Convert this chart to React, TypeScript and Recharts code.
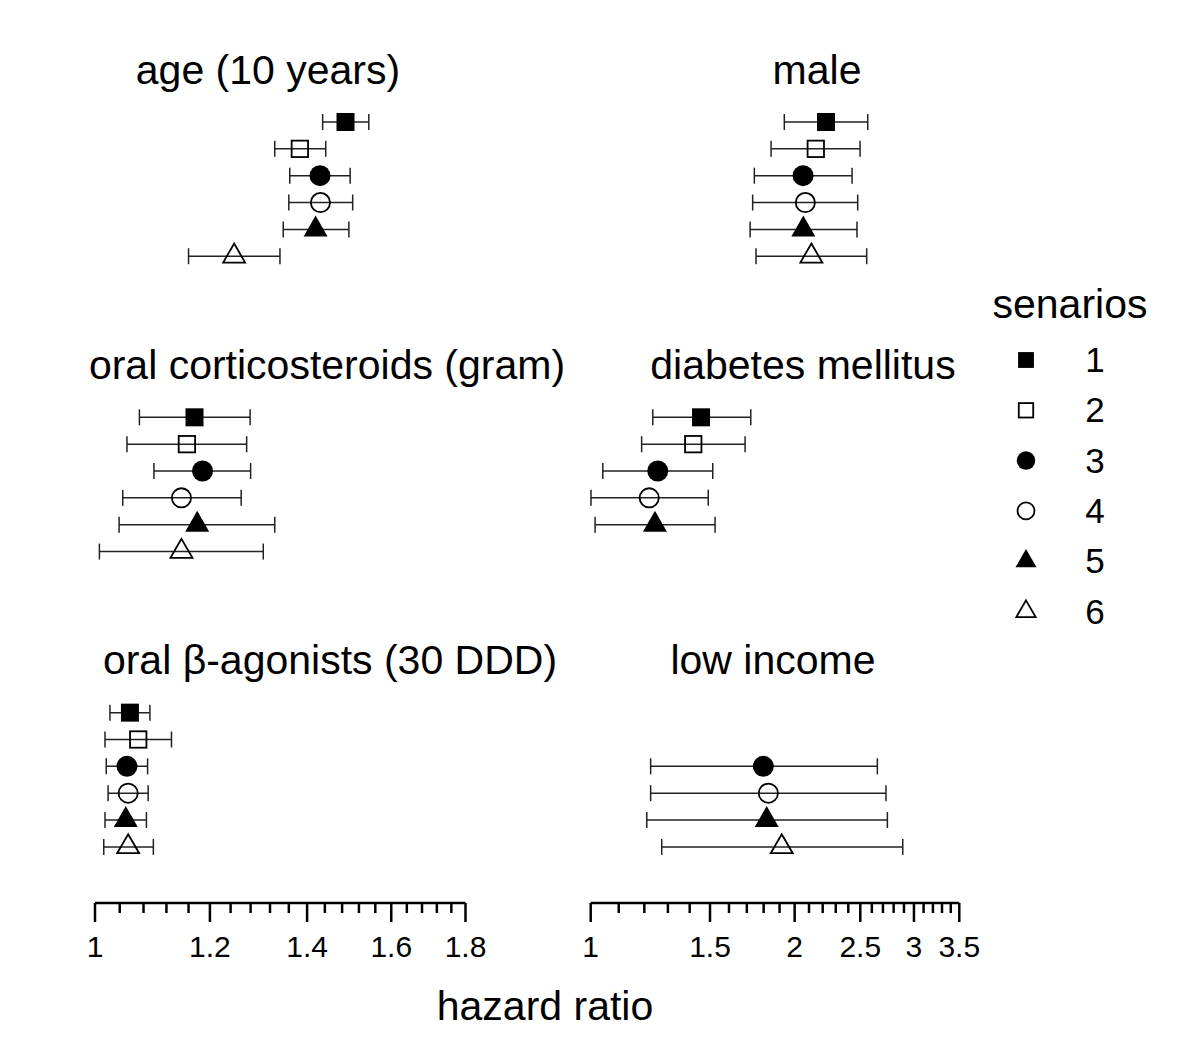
import React from 'react';
import { ScatterChart, Scatter, XAxis, YAxis, ErrorBar } from 'recharts';

const FONT = '"Liberation Sans", Arial, Helvetica, sans-serif';

const scenarios = ['1', '2', '3', '4', '5', '6'];

// ---- left column panels (hazard ratio, log axis 1 - 1.8)
const ageEst = [1.488, 1.384, 1.429, 1.43, 1.419, 1.247];
const ageLower = [1.435, 1.33, 1.362, 1.36, 1.348, 1.16];
const ageUpper = [1.544, 1.442, 1.499, 1.505, 1.496, 1.341];

const corticoEst = [1.171, 1.157, 1.186, 1.147, 1.176, 1.147];
const corticoLower = [1.073, 1.052, 1.098, 1.045, 1.039, 1.007];
const corticoUpper = [1.279, 1.272, 1.28, 1.261, 1.33, 1.306];

const betaEst = [1.057, 1.071, 1.052, 1.054, 1.05, 1.054];
const betaLower = [1.024, 1.016, 1.018, 1.021, 1.016, 1.014];
const betaUpper = [1.091, 1.129, 1.087, 1.088, 1.085, 1.097];

// ---- right column panels (hazard ratio, log axis 1 - 3.5)
const maleEst = [2.225, 2.149, 2.058, 2.074, 2.06, 2.117];
const maleLower = [1.931, 1.846, 1.744, 1.734, 1.719, 1.754];
const maleUpper = [2.564, 2.498, 2.431, 2.478, 2.472, 2.555];

const diabetesEst = [1.455, 1.417, 1.256, 1.22, 1.244, null];
const diabetesLower = [1.235, 1.189, 1.042, 1.001, 1.015, null];
const diabetesUpper = [1.723, 1.69, 1.514, 1.491, 1.526, null];

const incomeEst = [null, null, 1.798, 1.829, 1.819, 1.914];
const incomeLower = [null, null, 1.226, 1.226, 1.21, 1.273];
const incomeUpper = [null, null, 2.649, 2.728, 2.741, 2.888];

// ---- axis ticks
const leftMajorTicks = [1, 1.2, 1.4, 1.6, 1.8];
const leftMinorTicks = [1.04, 1.08, 1.12, 1.16, 1.24, 1.28, 1.32, 1.36, 1.44, 1.48, 1.52, 1.56, 1.64, 1.68, 1.72, 1.76];
const rightMajorTicks = [1, 1.5, 2, 2.5, 3, 3.5];
const rightMinorTicks = [1.1, 1.2, 1.3, 1.4, 1.6, 1.7, 1.8, 1.9, 2.1, 2.2, 2.3, 2.4, 2.6, 2.7, 2.8, 2.9, 3.1, 3.2, 3.3, 3.4];

type Panel = {
  title: string;
  est: (number | null)[];
  lower: (number | null)[];
  upper: (number | null)[];
  cx: number;
  baseline: number;
};

const leftPanels: Panel[] = [
  { title: 'age (10 years)', est: ageEst, lower: ageLower, upper: ageUpper, cx: 268, baseline: 84 },
  { title: 'oral corticosteroids (gram)', est: corticoEst, lower: corticoLower, upper: corticoUpper, cx: 327, baseline: 379 },
  { title: 'oral \u03b2-agonists (30 DDD)', est: betaEst, lower: betaLower, upper: betaUpper, cx: 330, baseline: 674 },
];
const rightPanels: Panel[] = [
  { title: 'male', est: maleEst, lower: maleLower, upper: maleUpper, cx: 817, baseline: 84 },
  { title: 'diabetes mellitus', est: diabetesEst, lower: diabetesLower, upper: diabetesUpper, cx: 803, baseline: 379 },
  { title: 'low income', est: incomeEst, lower: incomeLower, upper: incomeUpper, cx: 773, baseline: 674 },
];

const PANEL_STEP = 11; // rows between panels in y units
const Y_DOMAIN: [number, number] = [0.5, 30.09];

function seriesFor(panels: Panel[], s: number) {
  const out: { x: number; y: number; err: [number, number] }[] = [];
  panels.forEach((p, pi) => {
    const e = p.est[s];
    const lo = p.lower[s];
    const hi = p.upper[s];
    if (e == null || lo == null || hi == null) return;
    out.push({ x: e, y: pi * PANEL_STEP + s + 1, err: [e - lo, hi - e] });
  });
  return out;
}

function Marker({ kind, cx, cy, scale = 1 }: { kind: number; cx: number; cy: number; scale?: number }) {
  const k = scale;
  const sw = 1.8;
  switch (kind) {
    case 0: {
      const a = 18 * k;
      return <rect x={cx - a / 2} y={cy - a / 2} width={a} height={a} fill="#000" />;
    }
    case 1: {
      const a = 16.4 * k;
      return <rect x={cx - a / 2} y={cy - a / 2} width={a} height={a} fill="none" stroke="#000" strokeWidth={sw} />;
    }
    case 2:
      return <circle cx={cx} cy={cy} r={10.5 * k} fill="#000" />;
    case 3:
      return <circle cx={cx} cy={cy} r={9.6 * k} fill="none" stroke="#000" strokeWidth={sw} />;
    case 4: {
      const w = 24 * k;
      const h = 21 * k;
      return (
        <path
          d={`M${cx},${cy - (2 * h) / 3} L${cx + w / 2},${cy + h / 3} L${cx - w / 2},${cy + h / 3} Z`}
          fill="#000"
        />
      );
    }
    default: {
      const w = 22 * k;
      const h = 19 * k;
      return (
        <path
          d={`M${cx},${cy - (2 * h) / 3} L${cx + w / 2},${cy + h / 3} L${cx - w / 2},${cy + h / 3} Z`}
          fill="none"
          stroke="#000"
          strokeWidth={sw}
          strokeLinejoin="miter"
        />
      );
    }
  }
}

function makeTick(majors: number[]) {
  return (props: any) => {
    const { x, y, payload } = props;
    const v = payload.value as number;
    const isMajor = majors.some((m) => Math.abs(m - v) < 1e-9);
    return (
      <g>
        <line x1={x} x2={x} y1={y} y2={y + (isMajor ? 19 : 10)} stroke="#000" strokeWidth={2.5} />
        {isMajor && (
          <text x={x} y={y + 54} textAnchor="middle" fontSize={30} fontFamily={FONT} fill="#000">
            {String(v)}
          </text>
        )}
      </g>
    );
  };
}

function Column({
  panels,
  domain,
  majors,
  minors,
  plotLeft,
  plotRight,
  width,
}: {
  panels: Panel[];
  domain: [number, number];
  majors: number[];
  minors: number[];
  plotLeft: number;
  plotRight: number;
  width: number;
}) {
  const ticks = [...majors, ...minors].sort((a, b) => a - b);
  return (
    <div style={{ position: 'absolute', left: 0, top: 0 }}>
      <ScatterChart
        width={width}
        height={980}
        margin={{ top: 108.57, right: width - plotRight, bottom: 17, left: plotLeft }}
      >
        <XAxis
          type="number"
          dataKey="x"
          scale="log"
          domain={domain}
          allowDataOverflow
          ticks={ticks}
          interval={0}
          tickLine={false}
          tickSize={0}
          tickMargin={0}
          height={60}
          axisLine={{ stroke: '#000', strokeWidth: 2.5 }}
          tick={makeTick(majors)}
        />
        <YAxis type="number" dataKey="y" domain={Y_DOMAIN} reversed hide allowDataOverflow />
        {scenarios.map((name, s) => (
          <Scatter
            key={name}
            name={name}
            data={seriesFor(panels, s)}
            isAnimationActive={false}
            shape={(p: any) => <Marker kind={s} cx={p.cx} cy={p.cy} />}
          >
            <ErrorBar dataKey="err" direction="x" width={8} stroke="#222" strokeWidth={1.5} />
          </Scatter>
        ))}
      </ScatterChart>
    </div>
  );
}

export default function App() {
  const legendRows = [360, 410.3, 460.6, 510.9, 561.2, 611.5];
  return (
    <div
      style={{
        position: 'absolute',
        left: 0,
        top: 0,
        width: 1200,
        height: 1055,
        background: '#fff',
        overflow: 'hidden',
      }}
    >
      <Column
        panels={leftPanels}
        domain={[1, 1.8]}
        majors={leftMajorTicks}
        minors={leftMinorTicks}
        plotLeft={95}
        plotRight={465.5}
        width={560}
      />
      <Column
        panels={rightPanels}
        domain={[1, 3.5]}
        majors={rightMajorTicks}
        minors={rightMinorTicks}
        plotLeft={590.7}
        plotRight={959.3}
        width={1000}
      />
      <svg
        width={1200}
        height={1055}
        style={{ position: 'absolute', left: 0, top: 0, pointerEvents: 'none' }}
        fontFamily={FONT}
      >
        {[...leftPanels, ...rightPanels].map((p) => (
          <text key={p.title} x={p.cx} y={p.baseline} textAnchor="middle" fontSize={41} fill="#000">
            {p.title}
          </text>
        ))}
        <text x={545} y={1020} textAnchor="middle" fontSize={41} fill="#000">
          hazard ratio
        </text>
        <text x={1070} y={318} textAnchor="middle" fontSize={41} fill="#000">
          senarios
        </text>
        {scenarios.map((name, i) => (
          <g key={name}>
            <Marker kind={i} cx={1026} cy={legendRows[i]} scale={0.88} />
            <text x={1095} y={legendRows[i] + 12} textAnchor="middle" fontSize={35} fill="#000">
              {name}
            </text>
          </g>
        ))}
      </svg>
    </div>
  );
}
